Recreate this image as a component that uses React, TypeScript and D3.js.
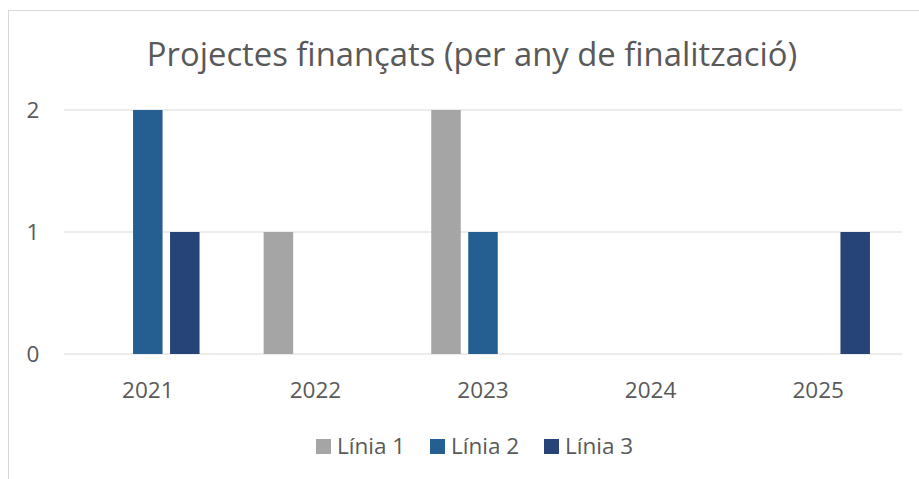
import React from "react";
import * as d3 from "d3";

const categories = ["2021", "2022", "2023", "2024", "2025"];
const seriesNames = ["Línia 1", "Línia 2", "Línia 3"];
const linia1 = [0, 1, 2, 0, 0];
const linia2 = [2, 0, 1, 0, 0];
const linia3 = [1, 0, 0, 0, 1];
const yTicks = [0, 1, 2];
const colors = ["#A5A5A5", "#255E91", "#264478"];

const W = 919;
const H = 479;
const FONT = "Open Sans, Carlito, Calibri, sans-serif";
const TXT = "#595959";

export default function App() {
  const series = [linia1, linia2, linia3];
  const left = 64, right = 902, top = 110, bottom = 354;
  const x = d3.scaleBand<string>().domain(categories).range([left, right]).paddingInner(0).paddingOuter(0);
  const y = d3.scaleLinear().domain([0, 2]).range([bottom, top]);
  const bw = 29.5, gap = 7.5;
  const groupW = 3 * bw + 2 * gap;

  const legendItems = [
    { sx: 316, tx: 337 },
    { sx: 430, tx: 451 },
    { sx: 544, tx: 565 },
  ];

  return (
    <svg width={W} height={H} style={{ position: "absolute", left: 0, top: 0, background: "#fff" }}>
      <rect x={8.5} y={10.5} width={1000} height={1000} fill="#fff" stroke="#d9d9d9" strokeWidth={1} />
      <text x={472} y={66} textAnchor="middle" fontFamily={FONT} fontSize={32.8} fill={TXT}>
        Projectes finançats (per any de finalització)
      </text>
      {yTicks.map((t) => (
        <g key={t}>
          <line x1={left} x2={right} y1={y(t)} y2={y(t)} stroke="#d9d9d9" strokeWidth={1.2} />
          <text x={33} y={y(t)} dy="0.35em" textAnchor="middle" fontFamily={FONT} fontSize={22.5} fill={TXT}>
            {t}
          </text>
        </g>
      ))}
      {categories.map((c, i) => {
        const cx = (x(c) as number) + x.bandwidth() / 2;
        return (
          <g key={c}>
            {series.map((s, j) =>
              s[i] > 0 ? (
                <rect
                  key={j}
                  x={cx - groupW / 2 + j * (bw + gap)}
                  y={y(s[i])}
                  width={bw}
                  height={y(0) - y(s[i])}
                  fill={colors[j]}
                />
              ) : null
            )}
            <text x={cx} y={390} dy="0.35em" textAnchor="middle" fontFamily={FONT} fontSize={22.5} fill={TXT}>
              {c}
            </text>
          </g>
        );
      })}
      {seriesNames.map((n, j) => (
        <g key={n}>
          <rect x={legendItems[j].sx} y={439} width={15} height={15} fill={colors[j]} />
          <text x={legendItems[j].tx} y={446.5} dy="0.35em" fontFamily={FONT} fontSize={22.5} fill={TXT}>
            {n}
          </text>
        </g>
      ))}
    </svg>
  );
}
